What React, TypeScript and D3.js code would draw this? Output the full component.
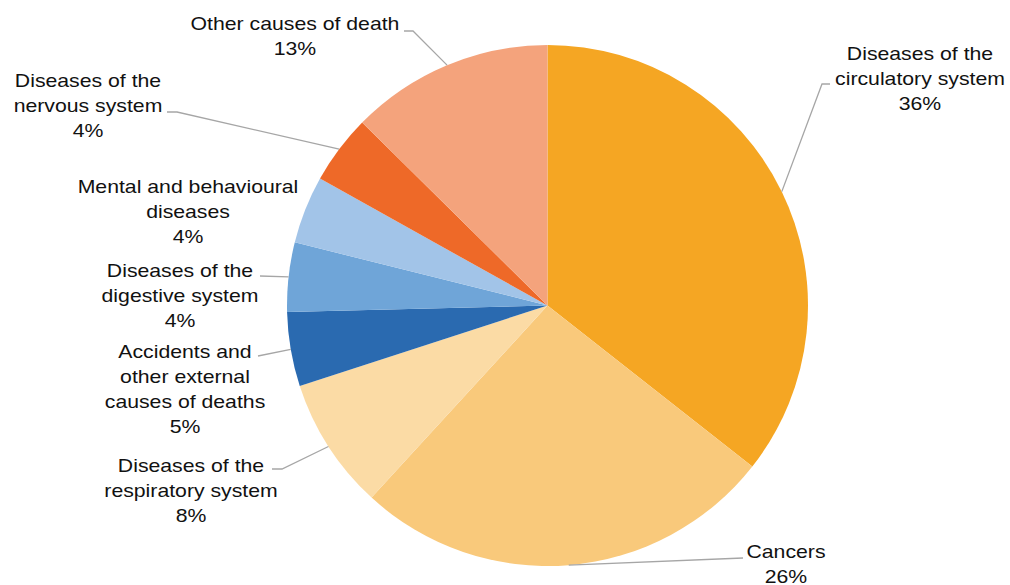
import React from 'react';
import * as d3 from 'd3';

// causes of death, clockwise from 12 o'clock
const causes = [
  ['Diseases of the', 'circulatory system'],
  ['Cancers'],
  ['Diseases of the', 'respiratory system'],
  ['Accidents and', 'other external', 'causes of deaths'],
  ['Diseases of the', 'digestive system'],
  ['Mental and behavioural', 'diseases'],
  ['Diseases of the', 'nervous system'],
  ['Other causes of death'],
];
const shares = [35.6, 26.2, 8.2, 4.6, 4.3, 4.2, 4.3, 12.6];
const colors = ['#f5a623', '#f9c97b', '#fbdba5', '#2a6ab0', '#6fa5d8', '#a2c4e8', '#ee6928', '#f4a37c'];

// label placement: centre x, first baseline, leader start and optional elbow
const labelLayout = [
  { x: 920, y: 60, from: [830, 84], elbow: [822, 84] },
  { x: 786, y: 558, from: [743, 558], elbow: null },
  { x: 191, y: 472, from: [272, 469], elbow: [282, 469] },
  { x: 185, y: 358, from: [258, 356], elbow: null },
  { x: 180, y: 277, from: [260, 276], elbow: null },
  { x: 188, y: 193, from: null, elbow: null },
  { x: 88, y: 87, from: [167, 112], elbow: [177, 112] },
  { x: 295, y: 30, from: [404, 31], elbow: [413, 31] },
];

const W = 1010;
const H = 585;
const cx = 547.5;
const cy = 305.5;
const R = 260.5;
const LINE = 25;

export default function App() {
  const pie = d3.pie<number>().sort(null).value((d) => d);
  const arcs = pie(shares);
  const arc = d3.arc<d3.PieArcDatum<number>>().innerRadius(0).outerRadius(R);
  const edge = d3.arc<d3.PieArcDatum<number>>().innerRadius(R).outerRadius(R);
  const total = d3.sum(shares);

  return (
    <svg width={W} height={H} style={{ position: 'absolute', left: 0, top: 0, background: '#fff' }}>
      <g transform={`translate(${cx},${cy})`}>
        {arcs.map((a, i) => (
          <path key={i} d={arc(a) as string} fill={colors[i]} />
        ))}
      </g>
      {arcs.map((a, i) => {
        const lay = labelLayout[i];
        if (!lay.from) return null;
        const [ex, ey] = edge.centroid(a);
        const pts: [number, number][] = [lay.from as [number, number]];
        if (lay.elbow) pts.push(lay.elbow as [number, number]);
        pts.push([cx + ex, cy + ey]);
        return (
          <path key={'l' + i} d={d3.line()(pts) as string} fill="none" stroke="#a6a6a6" strokeWidth={1.3} />
        );
      })}
      {arcs.map((a, i) => {
        const lay = labelLayout[i];
        const lines = [...causes[i], `${Math.round((shares[i] / total) * 100)}%`];
        return (
          <g key={'t' + i}>
            {lines.map((t, j) => (
              <text
                key={j}
                transform={`translate(${lay.x},${lay.y + j * LINE}) scale(1.18,1)`}
                textAnchor="middle"
                fontFamily="'Liberation Sans', Arial, sans-serif"
                fontSize={18}
                fill="#111"
              >
                {t}
              </text>
            ))}
          </g>
        );
      })}
    </svg>
  );
}
